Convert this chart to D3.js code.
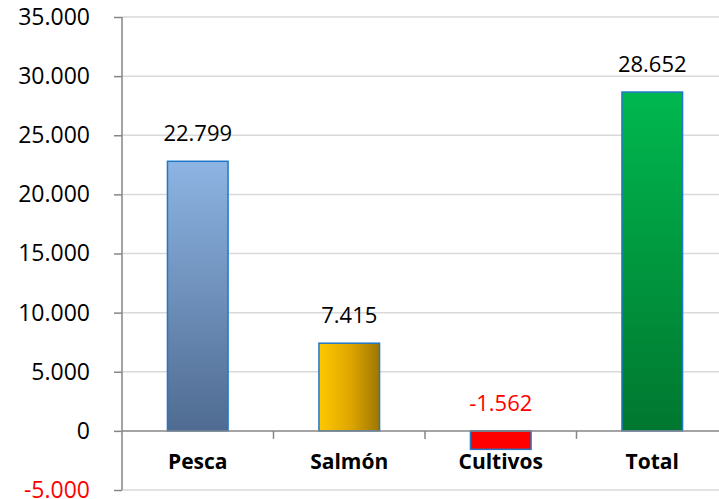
<!DOCTYPE html>
<html><head><meta charset="utf-8">
<script src="https://cdn.jsdelivr.net/npm/d3@7/dist/d3.min.js"></script>
<style>body{margin:0;background:#fff}svg{display:block}</style>
</head><body>
<svg id="c" width="719" height="499"></svg>
<script>
const categories = ["Pesca", "Salmón", "Cultivos", "Total"];
const values = [22799, 7415, -1562, 28652];
const tickValues = [-5000, 0, 5000, 10000, 15000, 20000, 25000, 30000, 35000];
const tickLabels = ["-5.000", "0", "5.000", "10.000", "15.000", "20.000", "25.000", "30.000", "35.000"];
const valueLabels = ["22.799", "7.415", "-1.562", "28.652"];

const svg = d3.select("#c");
const font = "'Open Sans', sans-serif";
const x = d3.scaleBand().domain(categories).range([122, 728]).paddingInner(0.6).paddingOuter(0.3);
const y = d3.scaleLinear().domain([-5000, 35000]).range([490, 17]);

const defs = svg.append("defs");
function grad(id, x2, y2, stops) {
  const g = defs.append("linearGradient").attr("id", id)
    .attr("x1", 0).attr("y1", 0).attr("x2", x2).attr("y2", y2);
  stops.forEach(s => g.append("stop").attr("offset", s[0]).attr("stop-color", s[1]));
}
grad("gPesca", 0, 1, [[0, "#8db4e3"], [1, "#4f6b91"]]);
grad("gSalmon", 1, 0, [[0, "#ffc800"], [0.5, "#e0a800"], [1, "#9f7600"]]);
grad("gCult", 0, 1, [[0, "#ff0000"], [1, "#ff0000"]]);
grad("gTotal", 0, 1, [[0, "#00b84f"], [1, "#00772f"]]);
const fills = ["url(#gPesca)", "url(#gSalmon)", "url(#gCult)", "url(#gTotal)"];

// gridlines
svg.append("g").selectAll("line").data(tickValues.filter(v => v !== 0)).join("line")
  .attr("x1", 122).attr("x2", 719).attr("y1", d => y(d)).attr("y2", d => y(d))
  .attr("stroke", "#d9d9d9").attr("stroke-width", 1.5);

// bars
svg.append("g").selectAll("rect").data(values).join("rect")
  .attr("x", (d, i) => x(categories[i]))
  .attr("width", x.bandwidth())
  .attr("y", d => y(Math.max(0, d)))
  .attr("height", d => Math.abs(y(d) - y(0)))
  .attr("fill", (d, i) => fills[i])
  .attr("stroke", "#1f78c8").attr("stroke-width", 1.5);

// y axis
const yAxis = d3.axisLeft(y).tickValues(tickValues).tickSize(8).tickPadding(24)
  .tickFormat((d, i) => tickLabels[i]);
const gy = svg.append("g").attr("transform", "translate(122,0)").call(yAxis);
gy.select(".domain").attr("stroke", "#868686").attr("stroke-width", 1.5).attr("d", "M0,17V490");
gy.selectAll(".tick line").attr("stroke", "#868686").attr("stroke-width", 1.5);
gy.selectAll(".tick text").attr("font-family", font).attr("font-size", 23)
  .attr("fill", d => d < 0 ? "#ff0000" : "#000");

// x axis at zero
const xAxis = d3.axisBottom(x).tickSize(0).tickPadding(23);
const gx = svg.append("g").attr("transform", `translate(0,${y(0)})`).call(xAxis);
gx.select(".domain").attr("stroke", "#868686").attr("stroke-width", 1.5).attr("d", "M122,0H719");
gx.selectAll(".tick text").attr("font-family", font).attr("font-size", 21).attr("font-weight", "bold").attr("fill", "#000");
// category boundary ticks
svg.append("g").selectAll("line").data(d3.range(1, categories.length)).join("line")
  .attr("x1", i => x.range()[0] + i * (x.range()[1] - x.range()[0]) / categories.length)
  .attr("x2", i => x.range()[0] + i * (x.range()[1] - x.range()[0]) / categories.length)
  .attr("y1", y(0)).attr("y2", y(0) + 8)
  .attr("stroke", "#868686").attr("stroke-width", 1.5);

// value labels
svg.append("g").selectAll("text").data(values).join("text")
  .attr("x", (d, i) => x(categories[i]) + x.bandwidth() / 2)
  .attr("y", d => (d >= 0 ? y(d) : y(0)) - 20)
  .attr("text-anchor", "middle")
  .attr("font-family", font).attr("font-size", 22)
  .attr("fill", d => d < 0 ? "#ff0000" : "#000")
  .text((d, i) => valueLabels[i]);
</script>
</body></html>
